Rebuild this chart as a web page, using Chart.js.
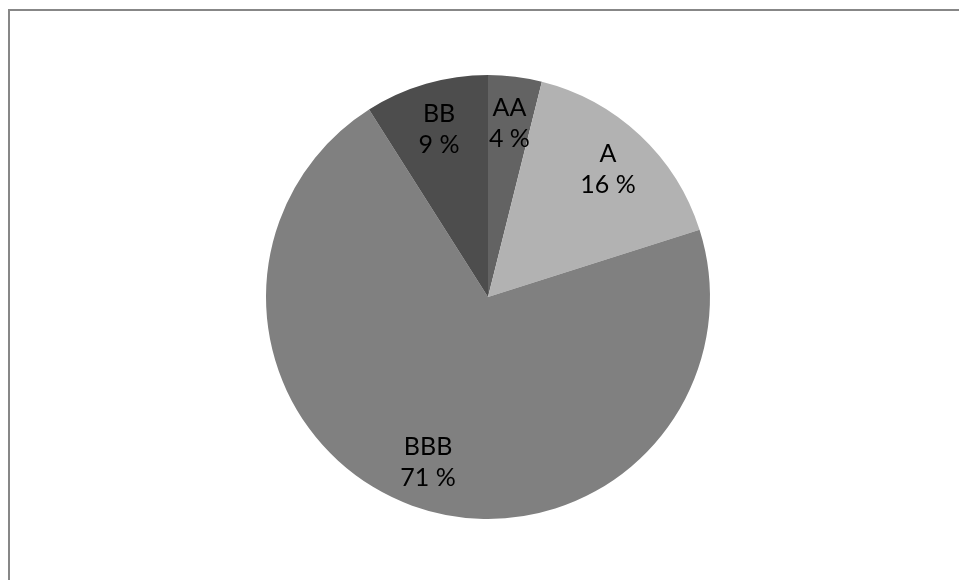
<!DOCTYPE html>
<html>
<head>
<meta charset="utf-8">
<script src="https://cdn.jsdelivr.net/npm/chart.js@4"></script>
<style>
    html, body { margin: 0; padding: 0; background: #fff; }
    #wrap { position: relative; width: 959px; height: 580px; overflow: hidden; }
    #frame {
        position: absolute; left: 8px; top: 9px; width: 980px; height: 600px;
        border-left: 2px solid #878787; border-top: 2px solid #878787;
        pointer-events: none;
    }
</style>
</head>
<body>
<div id="wrap">
    <canvas id="pie" width="959" height="580"></canvas>
    <div id="frame"></div>
</div>
<script>
// Rating split, clockwise from 12 o'clock
const ratings = ['AA', 'A', 'BBB', 'BB'];
const shares = [3.9, 16.2, 70.9, 9.0];
const sliceColors = ['#636363', '#b2b2b2', '#808080', '#4d4d4d'];

// Draw "label / NN %" inside each slice
const sliceLabels = {
    id: 'sliceLabels',
    afterDatasetsDraw(chart) {
        const ctx = chart.ctx;
        const meta = chart.getDatasetMeta(0);
        ctx.save();
        ctx.font = "25px Lato, 'DejaVu Sans', sans-serif";
        ctx.fillStyle = '#000';
        ctx.textAlign = 'center';
        ctx.textBaseline = 'middle';
        meta.data.forEach((arc, i) => {
            const p = arc.getProps(['x', 'y', 'startAngle', 'endAngle', 'outerRadius'], true);
            const mid = (p.startAngle + p.endAngle) / 2;
            const d = p.outerRadius * 0.79;
            const cx = p.x + Math.cos(mid) * d;
            const cy = p.y + Math.sin(mid) * d;
            ctx.fillText(ratings[i], cx, cy - 15);
            ctx.fillText(Math.round(shares[i]) + ' %', cx, cy + 16);
        });
        ctx.restore();
    }
};

new Chart(document.getElementById('pie').getContext('2d'), {
    type: 'pie',
    data: {
        labels: ratings,
        datasets: [{
            data: shares,
            backgroundColor: sliceColors,
            borderWidth: 0
        }]
    },
    options: {
        responsive: false,
        animation: false,
        layout: { padding: { top: 75, bottom: 61, left: 17, right: 0 } },
        plugins: {
            legend: { display: false },
            tooltip: { enabled: false }
        }
    },
    plugins: [sliceLabels]
});
</script>
</body>
</html>
